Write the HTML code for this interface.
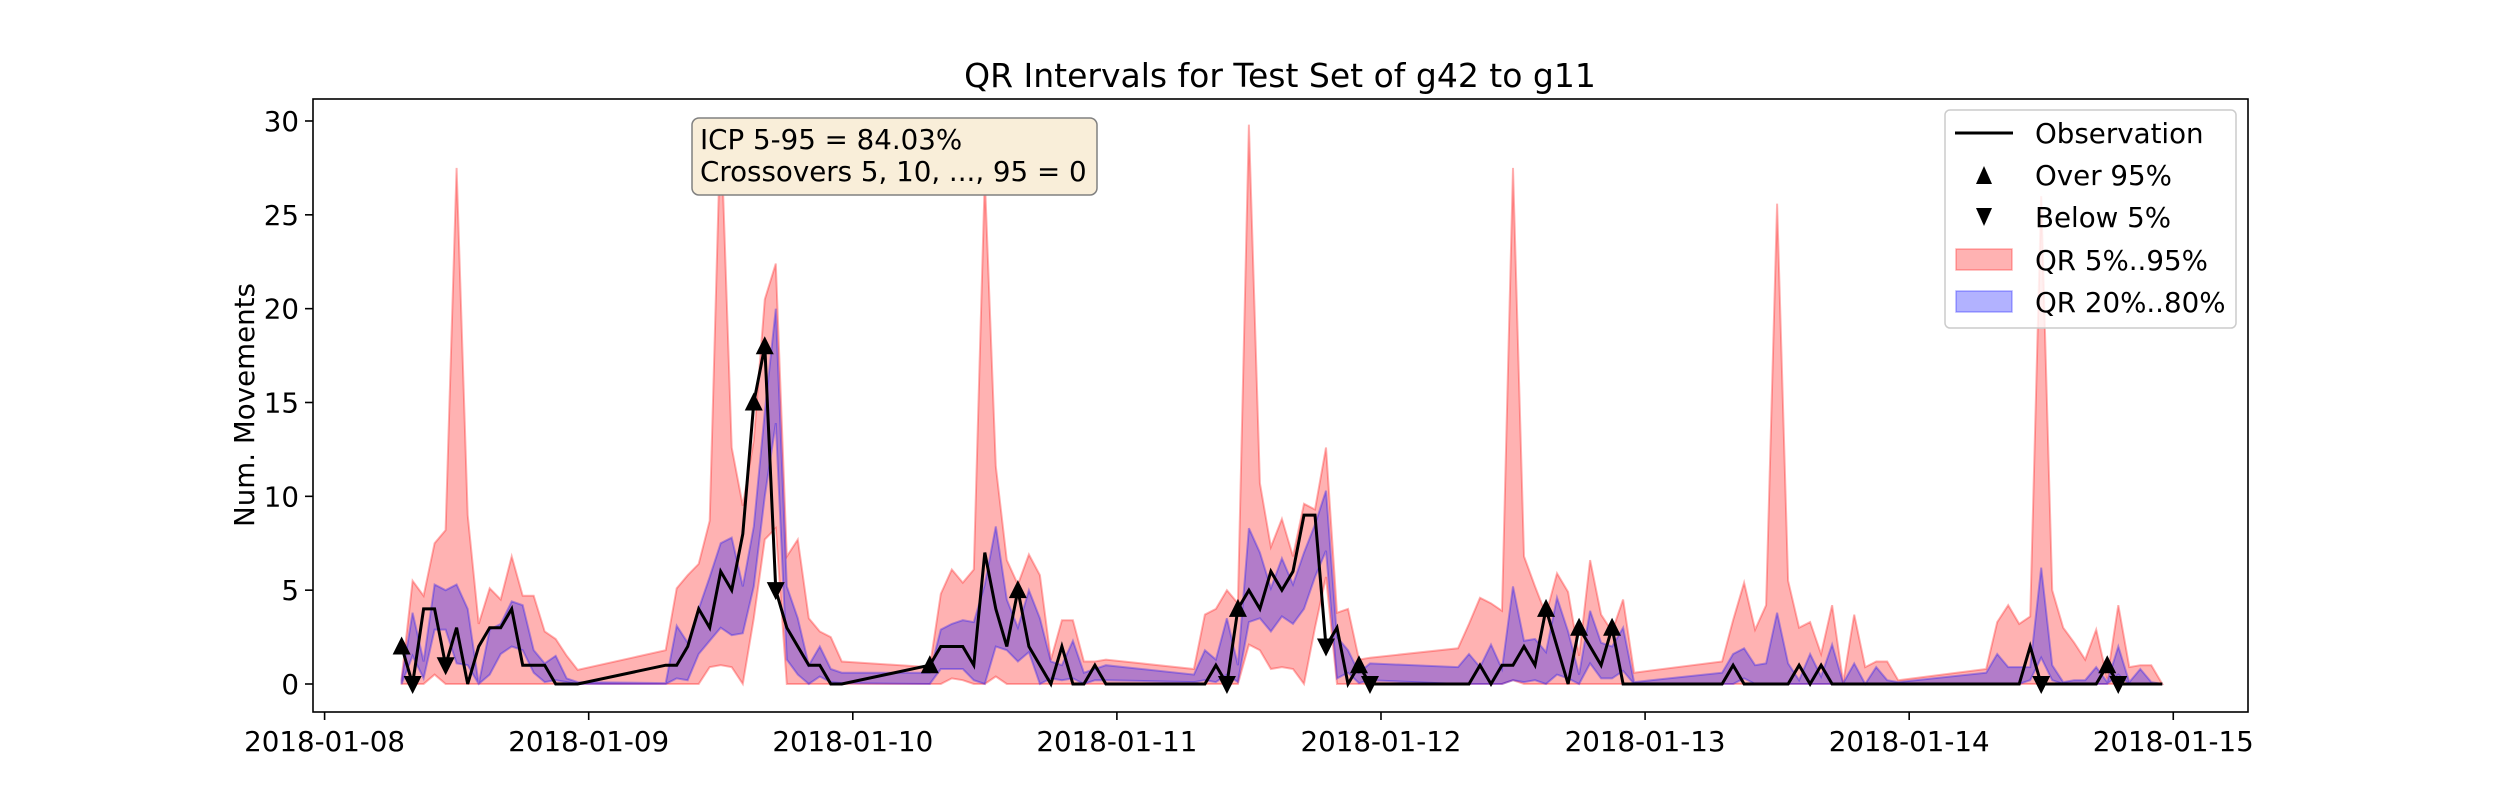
<!DOCTYPE html>
<html><head><meta charset="utf-8"><style>
html,body{margin:0;padding:0;background:#fff;}
svg{display:block;font-family:"DejaVu Sans","Liberation Sans",sans-serif;}
</style></head><body>
<svg id="chart" width="2500" height="800" viewBox="0 0 2500 800" xmlns="http://www.w3.org/2000/svg">
<rect x="0" y="0" width="2500" height="800" fill="#fff"/>
<g id="bands"></g>
<g id="obsg"></g>
<g id="axes"></g>
<text x="1280" y="87" font-size="33" text-anchor="middle">QR Intervals for Test Set of g42 to g11</text>
<text transform="translate(254,405) rotate(-90)" font-size="27.7" text-anchor="middle">Num. Movements</text>
<g>
<rect x="692" y="118" width="405" height="77" rx="7" fill="#f9eed9" stroke="#808080" stroke-width="1.5"/>
<text x="700" y="149" font-size="27.7">ICP 5-95 = 84.03%</text>
<text x="700" y="181" font-size="27.7">Crossovers 5, 10, ..., 95 = 0</text>
</g>
<g>
<rect x="1945" y="110" width="291" height="218" rx="5" fill="#fff" fill-opacity="0.8" stroke="#ccc" stroke-width="1.5"/>
<g><line x1="1955" y1="133" x2="2013" y2="133" stroke="#000" stroke-width="3"/><text x="2035" y="143" font-size="27.7">Observation</text></g>
<g><polygon points="1984,166 1976,184 1992,184" fill="#000"/><text x="2035" y="185" font-size="27.7">Over 95%</text></g>
<g><polygon points="1984,226 1976,208 1992,208" fill="#000"/><text x="2035" y="227" font-size="27.7">Below 5%</text></g>
<g><rect x="1956" y="249" width="56" height="21" fill="rgba(255,0,0,0.3)" stroke="rgba(255,0,0,0.3)" stroke-width="1.5"/><text x="2035" y="270" font-size="27.7">QR 5%..95%</text></g>
<g><rect x="1956" y="291" width="56" height="21" fill="rgba(0,0,255,0.3)" stroke="rgba(0,0,255,0.3)" stroke-width="1.5"/><text x="2035" y="312" font-size="27.7">QR 20%..80%</text></g>
</g>
</svg>
<script>
const days = ["2018-01-08","2018-01-09","2018-01-10","2018-01-11","2018-01-12","2018-01-13","2018-01-14"];
const hours = [7,8,9,10,11,12,13,14,15,16,17,18,19,20,21,22,23];
const xTickLabels = ["2018-01-08","2018-01-09","2018-01-10","2018-01-11","2018-01-12","2018-01-13","2018-01-14","2018-01-15"];
const yTickValues = [0,5,10,15,20,25,30];
const obs = [
[2,0,4,4,1,3,0,2,3,3,4,1,1,1,0,0,0],
[1,1,2,4,3,6,5,8,15,18,5,3,2,1,1,0,0],
[1,2,2,2,1,7,4,2,5,2,1,0,2,0,0,1,0],
[0,0,1,0,4,5,4,6,5,6,9,9,2,3,0,1,0],
[0,0,1,0,1,1,2,1,4,2,0,3,2,1,3,0,0],
[0,1,0,0,0,0,0,1,0,1,0,0,0,0,0,0,0],
[0,0,0,0,2,0,0,0,0,0,0,1,0,0,0,0,0]];
const q95 = [
[0.3,5.5,4.7,7.5,8.2,27.5,9.0,3.2,5.1,4.5,6.8,4.7,4.7,2.8,2.4,1.5,0.75],
[1.8,5.1,5.8,6.4,8.7,30,12.6,9.5,13,20.5,22.4,6.8,7.7,3.5,2.8,2.5,1.2],
[0.9,4.8,6.1,5.4,6.1,27,11.6,6.6,5.3,6.9,5.8,1.3,3.4,3.4,1.2,1.2,1.3],
[0.8,3.7,4.0,5.0,4.3,29.8,10.7,7.3,8.8,6.8,9.6,9.3,12.6,3.8,4.0,1.3,1.4],
[1.9,3.2,4.6,4.3,3.9,27.5,6.8,5.2,3.7,5.9,4.9,1.5,6.6,3.7,2.8,4.5,0.6],
[1.2,3.4,5.4,2.9,4.2,25.6,5.5,3.0,3.3,1.6,4.2,0.1,3.7,0.9,1.2,1.2,0.2],
[0.8,3.3,4.2,3.2,3.6,26,5.0,3.0,2.2,1.3,2.9,0.3,4.2,0.9,1.0,1.0,0]];
const q80 = [
[0.2,3.8,1.2,5.3,5.0,5.3,4.0,0,2.9,3.2,4.4,4.2,1.8,1.1,1.5,0.3,0.1],
[0.05,3.1,2.2,4.0,5.7,7.5,7.8,5.2,8.4,14.5,20,5.2,3.5,1.0,2.0,0.8,0.6],
[0.6,2.9,3.2,3.4,3.3,5.3,8.4,4.5,3.0,5.0,3.5,1.2,1.0,2.3,0.6,0.8,1.0],
[0.5,1.8,1.3,3.5,1.0,8.3,7.0,5.1,6.7,5.3,7.0,8.5,10.3,2.5,1.8,0.6,1.1],
[0.9,1.6,0.9,2.1,0.8,5.2,2.3,2.4,1.7,4.6,2.8,0.5,3.9,2.2,2.0,3.0,0.1],
[0.6,1.6,1.9,1.0,1.1,3.8,1.1,0.2,1.6,0.4,2.1,0.05,1.1,0,0.9,0.2,0.1],
[0.6,1.6,0.9,0.9,0.9,6.2,1.0,0.1,0.2,0.2,0.9,0.1,2.0,0.1,0.8,0.1,0]];
const q20 = [
[0,1.5,0.3,2.9,2.9,1.1,1.0,0,0.5,1.6,2.0,1.8,0.6,0.1,0.2,0.1,0],
[0,0.3,0.2,1.6,2.3,3.0,2.6,2.7,5.2,10.0,13.9,1.3,0.5,0,0.4,0.1,0.05],
[0,0.8,0.8,0.8,0.2,0,2.0,1.8,1.2,1.7,0,0.3,0.2,0.3,0,0.2,0.2],
[0.1,0.2,0.1,0.5,0.1,3.3,3.5,2.8,3.6,3.2,4.0,5.7,7.1,0.3,0.6,0.05,0.2],
[0,0,0,0,0,0.2,0.1,0.2,0,0.5,0.3,0,1.1,0.3,0.3,0.7,0],
[0,0,0.3,0,0,0,0,0,0,0,0,0,0,0,0,0,0],
[0,0,0,0,0.2,1.4,0.2,0,0,0,0,0,0.5,0,0,0,0]];
const q05 = [
[0,0,0,0.5,0,0,0,0,0,0,0,0,0,0,0,0,0],
[0,0,0,0,0.9,1.0,0.9,0,3.5,7.7,8.3,0,0,0,0,0,0],
[0,0,0.3,0.2,0,0,0.4,0,0,0,0,0,0,0,0,0,0],
[0,0,0,0,0,2.1,1.8,0.8,0.9,0.8,0,3.0,5.7,0,0,0,0],
[0,0,0,0,0,0.2,0,0,0,0,0,0,0,0,0,0,0],
[0,0,0,0,0,0,0,0,0,0,0,0,0,0,0,0,0],
[0,0,0,0,0,0,0,0,0,0,0,0,0,0,0,0,0]];
const overDay = [0,1,1,2,2,3,3,4,4,4,6];
const overHour = [7,15,16,7,15,11,22,15,18,21,18];
const belowDay = [0,0,1,3,3,3,6,6];
const belowHour = [8,11,17,10,19,23,12,19];

const NS = "http://www.w3.org/2000/svg";
const AX = {left:313, right:2248, top:99, bottom:712};
function xs(dayIdx, hour){ return 324.6 + (dayIdx*24 + hour) * 11.004; }
function ys(v){ return 684 - v * 18.767; }
function mk(tag, attrs, parent){ const e=document.createElementNS(NS,tag); for(const k in attrs) e.setAttribute(k,attrs[k]); parent.appendChild(e); return e; }

const pts = [];
days.forEach((d,di)=>hours.forEach((h,hi)=>pts.push({di,h,hi})));
function bandPath(lo, hi){
  let s = pts.map((p,i)=>(i?"L":"M")+xs(p.di,p.h).toFixed(1)+","+ys(hi[p.di][p.hi]).toFixed(1)).join("");
  for(let i=pts.length-1;i>=0;i--){ const p=pts[i]; s+="L"+xs(p.di,p.h).toFixed(1)+","+ys(lo[p.di][p.hi]).toFixed(1); }
  return s+"Z";
}
const bands = document.getElementById("bands");
const b1 = mk("path",{d:bandPath(q05,q95),fill:"rgba(255,0,0,0.3)",stroke:"rgba(255,0,0,0.3)","stroke-width":"2"},bands);


const b2 = mk("path",{d:bandPath(q20,q80),fill:"rgba(0,0,255,0.3)",stroke:"rgba(0,0,255,0.3)","stroke-width":"2"},bands);



const og = document.getElementById("obsg");
const line = mk("polyline",{points:pts.map(p=>xs(p.di,p.h).toFixed(1)+","+ys(obs[p.di][p.hi]).toFixed(1)).join(" "),fill:"none",stroke:"#000","stroke-width":"3","stroke-linejoin":"miter"},og);


overDay.forEach((d,i)=>{
  const h=overHour[i]; const x=xs(d,h), y=ys(obs[d][h-7]);
  const t=mk("polygon",{points:`${x},${y-10} ${x-9},${y+8} ${x+9},${y+8}`,fill:"#000"},og);
  
  
});
belowDay.forEach((d,i)=>{
  const h=belowHour[i]; const x=xs(d,h), y=ys(obs[d][h-7]);
  const t=mk("polygon",{points:`${x},${y+10} ${x-9},${y-8} ${x+9},${y-8}`,fill:"#000"},og);
  
  
});

const ax = document.getElementById("axes");
const frame = mk("rect",{x:AX.left,y:AX.top,width:AX.right-AX.left,height:AX.bottom-AX.top,fill:"none",stroke:"#000","stroke-width":"1.6"},ax);


yTickValues.forEach(v=>{
  const y=ys(v);
  const tk=mk("line",{x1:AX.left-8,y1:y,x2:AX.left,y2:y,stroke:"#000","stroke-width":"1.6"},ax);
  
  
  const t=mk("text",{x:AX.left-14,y:y+10,"font-size":"27.7","text-anchor":"end"},ax);
  t.textContent=String(v);
  
  
});
xTickLabels.forEach((lab,i)=>{
  const x=xs(i,0);
  const tk=mk("line",{x1:x,y1:AX.bottom,x2:x,y2:AX.bottom+8,stroke:"#000","stroke-width":"1.6"},ax);
  
  
  const t=mk("text",{x:x,y:AX.bottom+39,"font-size":"27.7","text-anchor":"middle"},ax);
  t.textContent=lab;
  
  
});
</script>
</body></html>
